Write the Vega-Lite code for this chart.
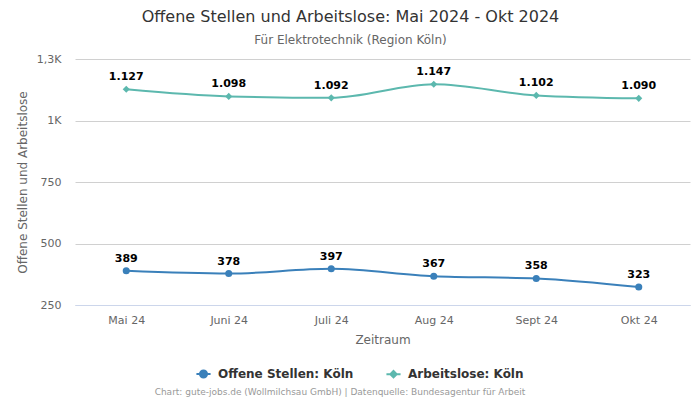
{
  "$schema": "https://vega.github.io/schema/vega-lite/v6.json",
  "width": 615,
  "height": 246,
  "autosize": {"type": "none"},
  "padding": {"left": 75, "top": 59, "right": 10, "bottom": 95},
  "background": "white",
  "config": {
    "font": "DejaVu Sans",
    "view": {"stroke": null},
    "locale": {"number": {"decimal": ",", "thousands": ".", "grouping": [3], "currency": ["", " €"]}}
  },
  "title": {
    "text": "Offene Stellen und Arbeitslose: Mai 2024 - Okt 2024",
    "subtitle": "Für Elektrotechnik (Region Köln)",
    "anchor": "middle",
    "frame": "group",
    "dx": -32,
    "fontSize": 16,
    "fontWeight": "normal",
    "color": "#333333",
    "subtitleFontSize": 12,
    "subtitleColor": "#666666",
    "subtitlePadding": 10,
    "offset": 7
  },
  "encoding": {
    "x": {
      "field": "monat",
      "type": "ordinal",
      "sort": ["Mai 24", "Juni 24", "Juli 24", "Aug 24", "Sept 24", "Okt 24"],
      "scale": {"type": "point", "padding": 0.5},
      "axis": {
        "title": "Zeitraum",
        "labelAngle": 0,
        "labelFontSize": 11,
        "labelColor": "#666666",
        "labelPadding": 9,
        "titleFontSize": 12,
        "titleFontWeight": "normal",
        "titleColor": "#666666",
        "titlePadding": 9,
        "ticks": false,
        "domainColor": "#ccd6eb",
        "grid": false
      }
    },
    "y": {
      "field": "wert",
      "type": "quantitative",
      "scale": {"domain": [250, 1250], "nice": false, "zero": false},
      "axis": {
        "title": "Offene Stellen und Arbeitslose",
        "values": [250, 500, 750, 1000, 1250],
        "labelExpr": "datum.value >= 1000 ? replace(format(datum.value / 1000, '.2~'), '.', ',') + 'K' : datum.value",
        "labelFontSize": 11,
        "labelColor": "#666666",
        "labelPadding": 14,
        "titleFontSize": 12,
        "titleFontWeight": "normal",
        "titleColor": "#666666",
        "titlePadding": 7,
        "ticks": false,
        "domain": false,
        "gridColor": "#d0d0d0"
      }
    }
  },
  "layer": [
    {
      "data": {"name": "werte", "values": [
        {"monat": "Mai 24", "serie": "Offene Stellen: Köln", "wert": 389},
        {"monat": "Juni 24", "serie": "Offene Stellen: Köln", "wert": 378},
        {"monat": "Juli 24", "serie": "Offene Stellen: Köln", "wert": 397},
        {"monat": "Aug 24", "serie": "Offene Stellen: Köln", "wert": 367},
        {"monat": "Sept 24", "serie": "Offene Stellen: Köln", "wert": 358},
        {"monat": "Okt 24", "serie": "Offene Stellen: Köln", "wert": 323},
        {"monat": "Mai 24", "serie": "Arbeitslose: Köln", "wert": 1127},
        {"monat": "Juni 24", "serie": "Arbeitslose: Köln", "wert": 1098},
        {"monat": "Juli 24", "serie": "Arbeitslose: Köln", "wert": 1092},
        {"monat": "Aug 24", "serie": "Arbeitslose: Köln", "wert": 1147},
        {"monat": "Sept 24", "serie": "Arbeitslose: Köln", "wert": 1102},
        {"monat": "Okt 24", "serie": "Arbeitslose: Köln", "wert": 1090}
      ]},
      "encoding": {
        "color": {
          "field": "serie",
          "type": "nominal",
          "scale": {"domain": ["Offene Stellen: Köln", "Arbeitslose: Köln"], "range": ["#3a80ba", "#5cb8ae"]},
          "legend": {
            "title": null,
            "orient": "none",
            "direction": "horizontal",
            "legendX": 120,
            "legendY": 306,
            "labelFontSize": 12,
            "labelFontWeight": "bold",
            "labelColor": "#333333",
            "columnPadding": 28,
            "symbolSize": 200,
            "symbolStrokeWidth": 2,
            "labelOffset": 6,
            "encode": {
              "symbols": {
                "update": {
                  "shape": {"signal": "datum.value == 'Offene Stellen: Köln' ? 'M-1,0L-0.5,0M0.5,0L1,0M-0.5,0A0.5,0.5,0,1,1,0.5,0A0.5,0.5,0,1,1,-0.5,0Z' : 'M-1,0L-0.45,0M0.45,0L1,0M0,-0.45L0.45,0L0,0.45L-0.45,0Z'"},
                  "strokeWidth": {"value": 2}
                }
              }
            }
          }
        }
      },
      "layer": [
        {"mark": {"type": "line", "interpolate": "monotone", "strokeWidth": 2}},
        {
          "transform": [{"filter": "datum.serie == 'Offene Stellen: Köln'"}],
          "mark": {"type": "point", "shape": "circle", "filled": true, "opacity": 1, "size": 50}
        },
        {
          "transform": [{"filter": "datum.serie == 'Arbeitslose: Köln'"}],
          "mark": {"type": "point", "shape": "diamond", "filled": true, "opacity": 1, "size": 50}
        },
        {
          "mark": {"type": "text", "dy": -12, "fontSize": 11, "fontWeight": "bold"},
          "encoding": {
            "text": {"field": "wert", "type": "quantitative", "format": ",d"},
            "color": {"value": "black"}
          }
        }
      ]
    },
    {
      "data": {"values": [{"quelle": "Chart: gute-jobs.de (Wollmilchsau GmbH) | Datenquelle: Bundesagentur für Arbeit"}]},
      "mark": {"type": "text", "fontSize": 9, "color": "#999999", "align": "center", "baseline": "middle"},
      "encoding": {
        "x": {"value": 265},
        "y": {"value": 333},
        "text": {"field": "quelle", "type": "nominal"}
      }
    }
  ]
}
